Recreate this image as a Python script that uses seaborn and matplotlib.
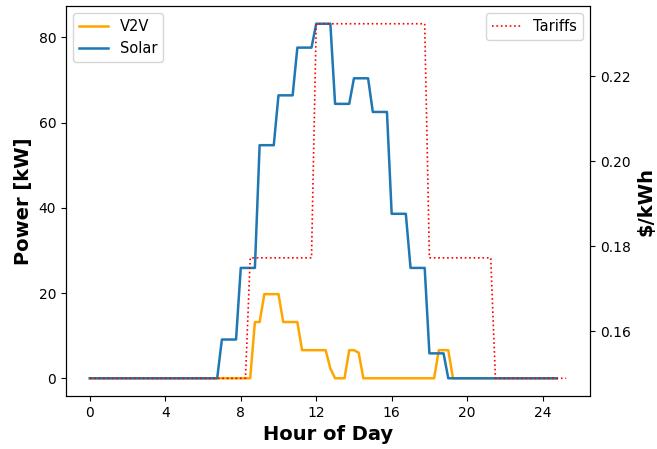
import numpy as np
import pandas as pd
import matplotlib
matplotlib.use("Agg")
import matplotlib.pyplot as plt
import seaborn as sns

# Time grid: 15-minute steps
hours = np.arange(0, 25.0, 0.25)  # 0 .. 24.75

# Solar power, one value per hour (held for the 4 quarter-hours)
solar_hourly = [0, 0, 0, 0, 0, 0, 0, 9.1, 25.9, 54.7, 66.4, 77.6, 83.2,
                64.4, 70.4, 62.5, 38.6, 25.9, 5.85, 0, 0, 0, 0, 0, 0]

# V2V power at quarter-hour resolution (non-zero part listed explicitly)
v2v_times = [8.5, 8.75, 9.0, 9.25, 9.5, 9.75, 10.0, 10.25, 10.5, 10.75, 11.0,
             11.25, 11.5, 11.75, 12.0, 12.25, 12.5, 12.75, 13.0, 13.25, 13.5,
             13.75, 14.0, 14.25, 14.5, 18.25, 18.5, 18.75, 19.0, 19.25]
v2v_values = [0, 13.2, 13.2, 19.75, 19.75, 19.75, 19.75, 13.2, 13.2, 13.2, 13.2,
              6.6, 6.6, 6.6, 6.6, 6.6, 6.6, 2.3, 0, 0, 0,
              6.6, 6.6, 6.0, 0, 0, 6.6, 6.6, 6.6, 0]

# Tariffs
tariff_times = [0, 8.25, 8.5, 11.75, 12.0, 17.75, 18.0, 21.25, 21.5, 25.25]
tariff_values = [0.149, 0.149, 0.1773, 0.1773, 0.2323, 0.2323, 0.1773, 0.1773, 0.149, 0.149]

solar = np.repeat(solar_hourly, 4)[:len(hours)]
v2v = np.zeros(len(hours))
for t, v in zip(v2v_times, v2v_values):
    v2v[int(round(t / 0.25))] = v

df = pd.DataFrame({"hour": hours, "V2V": v2v, "Solar": solar})
dft = pd.DataFrame({"hour": tariff_times, "Tariffs": tariff_values})

fig, ax = plt.subplots(figsize=(6.57, 4.49), dpi=100)
fig.subplots_adjust(left=0.1005, right=0.898, top=0.9866, bottom=0.118)

sns.lineplot(data=df, x="hour", y="V2V", ax=ax, color="orange", lw=1.8, label="V2V")
sns.lineplot(data=df, x="hour", y="Solar", ax=ax, color="#1f77b4", lw=1.8, label="Solar")
ax.set_xlabel("Hour of Day", fontsize=14, fontweight="bold")
ax.set_ylabel("Power [kW]", fontsize=14, fontweight="bold")
ax.set_xticks([0, 4, 8, 12, 16, 20, 24])
ax.set_yticks([0, 20, 40, 60, 80])
ax.legend(loc="upper left", fontsize=10.5)

ax2 = ax.twinx()
sns.lineplot(data=dft, x="hour", y="Tariffs", ax=ax2, color="red", ls=":", lw=1.2, label="Tariffs")
ax2.set_ylabel(r"\$/kWh", fontsize=14, fontweight="bold")
ax2.set_yticks([0.16, 0.18, 0.20, 0.22])
ax2.legend(loc="upper right", fontsize=10.5)
ax2.set_xlabel("")

ax.tick_params(labelsize=10)
ax2.tick_params(labelsize=10)

fig.savefig("out.png", dpi=100)
